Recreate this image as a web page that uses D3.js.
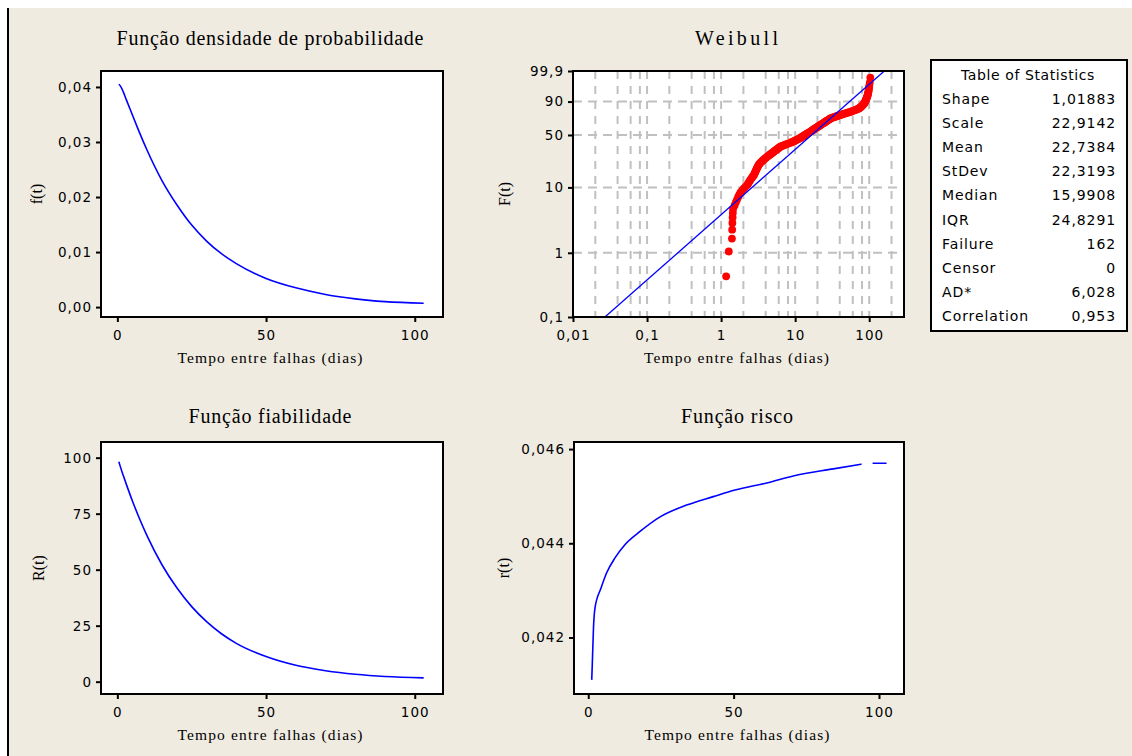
<!DOCTYPE html>
<html>
<head>
<meta charset="utf-8">
<script src="https://cdn.jsdelivr.net/npm/d3@7"></script>
<style>
body { margin: 0; background: #fff; }
.tick line { stroke: #000; stroke-width: 2; }
.tick text { font-family: "DejaVu Sans", sans-serif; font-size: 13.5px; letter-spacing: 1px; fill: #000; }
.serif { font-family: "Liberation Serif", "Times New Roman", serif; fill: #000; }
.stat { font-family: "DejaVu Sans", sans-serif; font-size: 14px; letter-spacing: 0.9px; fill: #000; }
</style>
</head>
<body>
<script>
// curve samples (time in days)
var tempo = [0.5, 1, 2, 3, 5, 7, 10, 15, 20, 25, 30, 35, 40, 50, 60, 70, 80, 90, 103];
var densidade = [0.0405, 0.0402, 0.0391, 0.0377, 0.0350, 0.0323, 0.0285, 0.0230, 0.0186, 0.0149,
                 0.0120, 0.0097, 0.0079, 0.0052, 0.0035, 0.0023, 0.0015, 0.0010, 0.0007];
var fiabilidade = [98.2, 96.0, 92.0, 88.2, 80.9, 74.2, 65.1, 52.2, 41.9, 33.5,
                   26.8, 21.4, 17.1, 11.2, 7.3, 4.9, 3.3, 2.3, 1.7];

// hazard curve (null = gap in the drawn line)
var riscoTempo = [1.2, 1.4, 1.8, 2.3, 4.4, 6.3, 9.2, 12.6, 17.8, 24.7, 33.8, 43.0, 50.5, 61.4, 70.5, 84.3, 94.0, 96.0, 97.8, 102.6];
var riscoValor = [0.04110, 0.04145, 0.04220, 0.04262, 0.04305, 0.04337, 0.04369, 0.04397, 0.04425, 0.04456,
                  0.04481, 0.04499, 0.04513, 0.04528, 0.04543, 0.04558, 0.04568, null, 0.04570, 0.04570];

// failure times (sorted), plotted at median ranks
var falhas = [1.17, 1.27, 1.40, 1.41, 1.42, 1.43, 1.44, 1.45, 1.52, 1.58, 1.64, 1.70, 1.76, 1.83,
  1.93, 2.03, 2.14, 2.26, 2.33, 2.40, 2.47, 2.54, 2.62, 2.70, 2.78,
  2.82, 2.87, 2.91, 2.96, 3.00, 3.05, 3.09, 3.14, 3.19, 3.24,
  3.33, 3.41, 3.50, 3.60, 3.69, 3.79, 3.90, 4.02, 4.13, 4.25, 4.38, 4.51, 4.64, 4.78, 4.92,
  5.05, 5.18, 5.32, 5.46, 5.60, 5.75, 5.90, 6.05, 6.21, 6.38,
  6.68, 6.99, 7.31, 7.66, 8.01, 8.39, 8.78, 9.19, 9.49, 9.80, 10.12, 10.46, 10.80, 11.15, 11.52, 11.90,
  12.19, 12.49, 12.80, 13.11, 13.43, 13.76, 14.10, 14.44, 14.80, 15.16, 15.53, 15.91, 16.30,
  16.66, 17.03, 17.41, 17.80, 18.20, 18.60, 19.02, 19.44, 19.87, 20.32, 20.77, 21.23, 21.71, 22.20,
  22.70, 23.22, 23.75, 24.28, 24.84, 25.40, 25.98, 26.57, 27.17, 27.79, 28.42, 29.06, 29.72, 30.40,
  31.78, 33.23, 34.74, 36.32, 37.97, 39.70, 41.50, 43.70, 46.02, 48.47, 51.04, 53.75, 56.60,
  59.11, 61.73, 64.46, 67.32, 70.30, 73.40, 74.85, 76.33, 77.85, 79.39, 80.96, 82.56, 84.20, 85.90,
  86.82, 87.75, 88.69, 89.64, 90.60, 91.57, 92.55, 93.54, 94.54, 95.50,
  96.3, 97.1, 97.9, 98.7, 99.5, 100.3, 101.8, 103.5];

// fitted Weibull line end points (time, percent)
var ajusteTempo = [0.027, 160];
var ajusteProb = [0.1, 99.9];

// tick values
var tempoTicks = [0, 50, 100];
var densTicks = [0, 0.01, 0.02, 0.03, 0.04];
var fiabTicks = [0, 25, 50, 75, 100];
var riscoTicks = [0.042, 0.044, 0.046];
var weibXTicks = [0.01, 0.1, 1, 10, 100];
var weibYTicks = [0.1, 1, 10, 50, 90, 99.9];
var weibXGrid = [0.02, 0.04, 0.06, 0.08, 0.1, 0.2, 0.4, 0.6, 0.8, 1, 2, 4, 6, 8, 10, 20, 40, 60, 80, 100, 200];
var weibYGrid = [1, 10, 50, 90];

// table of statistics
var statNomes = ["Shape", "Scale", "Mean", "StDev", "Median", "IQR", "Failure", "Censor", "AD*", "Correlation"];
var statValores = ["1,01883", "22,9142", "22,7384", "22,3193", "15,9908", "24,8291", "162", "0", "6,028", "0,953"];

var width = 1132, height = 756;
var blue = "#0000ff", red = "#ff0000";

var svg = d3.select("body").append("svg")
    .attr("width", width)
    .attr("height", height);

// window background and left edge
svg.append("rect").attr("x", 8).attr("y", 8).attr("width", width - 8).attr("height", height - 8).attr("fill", "#efebe1");
svg.append("line").attr("x1", 8).attr("x2", 8).attr("y1", 8).attr("y2", height).attr("stroke", "#000").attr("stroke-width", 2);

var comma = function(f) { return function(d) { return f(d).replace(".", ","); }; };

// draws white plot area; returns group
function panel(x0, y0, x1, y1) {
    var g = svg.append("g");
    g.append("rect").attr("x", x0).attr("y", y0).attr("width", x1 - x0).attr("height", y1 - y0).attr("fill", "#fff");
    return g;
}

function frame(x0, y0, x1, y1) {
    svg.append("rect").attr("x", x0).attr("y", y0).attr("width", x1 - x0).attr("height", y1 - y0)
        .attr("fill", "none").attr("stroke", "#000").attr("stroke-width", 2);
}

function axes(x, y, x0, y1, xAxis, yAxis) {
    svg.append("g").attr("transform", "translate(0," + y1 + ")")
        .call(xAxis.tickSize(5).tickPadding(8).tickSizeOuter(0))
        .call(function(g) { g.select(".domain").remove(); });
    svg.append("g").attr("transform", "translate(" + x0 + ",0)")
        .call(yAxis.tickSize(5).tickPadding(4).tickSizeOuter(0))
        .call(function(g) { g.select(".domain").remove(); });
}

function labels(title, tw, ylab, x0, x1, y0, y1, ty, yl) {
    var cx = (x0 + x1) / 2 - 2;
    svg.append("text").attr("class", "serif").attr("x", cx).attr("y", ty)
        .attr("text-anchor", "middle").attr("font-size", "20px")
        .attr("textLength", tw).attr("lengthAdjust", "spacing").text(title);
    svg.append("text").attr("class", "serif").attr("x", cx).attr("y", y1 + 46)
        .attr("text-anchor", "middle").attr("font-size", "15.5px")
        .attr("textLength", 185).attr("lengthAdjust", "spacing").text("Tempo entre falhas (dias)");
    svg.append("text").attr("class", "serif")
        .attr("transform", "translate(" + yl + "," + ((y0 + y1) / 2) + ") rotate(-90)")
        .attr("text-anchor", "middle").attr("font-size", "16px").text(ylab);
}

var line = function(x, y) {
    return d3.line().defined(function(d) { return d[1] !== null; })
        .x(function(d) { return x(d[0]); })
        .y(function(d) { return y(d[1]); })
        .curve(d3.curveMonotoneX);
};

// ---------- Função densidade de probabilidade ----------
var xL = d3.scaleLinear().domain([-5.5, 109.5]).range([101, 443]);
var yPdf = d3.scaleLinear().domain([-0.0018, 0.0429]).range([317, 71]);
var g1 = panel(101, 71, 443, 317);
g1.append("path")
    .attr("d", line(xL, yPdf)(tempo.map(function(t, i) { return [t, densidade[i]]; })))
    .attr("fill", "none").attr("stroke", blue).attr("stroke-width", 1.6);
frame(101, 71, 443, 317);
axes(xL, yPdf, 101, 317,
    d3.axisBottom(xL).tickValues(tempoTicks),
    d3.axisLeft(yPdf).tickValues(densTicks).tickFormat(comma(d3.format(".2f"))));
labels("Função densidade de probabilidade", 307, "f(t)", 101, 443, 71, 317, 45, 42);

// ---------- Weibull probability plot ----------
var xW = d3.scaleLog().domain([0.01, 295]).range([573, 904]);
var wb = function(p) { return Math.log(-Math.log(1 - p / 100)); };
var yW = d3.scaleLinear().domain([wb(0.1), wb(99.9)]).range([317, 71]);
var g2 = panel(573, 71, 904, 317);
svg.append("clipPath").attr("id", "clipW").append("rect")
    .attr("x", 573).attr("y", 71).attr("width", 331).attr("height", 246);
var gw = g2.append("g").attr("clip-path", "url(#clipW)");

gw.selectAll(".vgrid").data(weibXGrid).enter().append("line")
    .attr("x1", function(d) { return xW(d); }).attr("x2", function(d) { return xW(d); })
    .attr("y1", 71).attr("y2", 317)
    .attr("stroke", "#c0c0c0").attr("stroke-width", 2).attr("stroke-dasharray", "8,7");
gw.selectAll(".hgrid").data(weibYGrid).enter().append("line")
    .attr("x1", 573).attr("x2", 904)
    .attr("y1", function(d) { return yW(wb(d)); }).attr("y2", function(d) { return yW(wb(d)); })
    .attr("stroke", "#c0c0c0").attr("stroke-width", 2).attr("stroke-dasharray", "9,6");

var n = falhas.length;
gw.selectAll(".pt").data(falhas).enter().append("circle")
    .attr("cx", function(d) { return xW(d); })
    .attr("cy", function(d, i) { return yW(wb(100 * (i + 1 - 0.3) / (n + 0.4))); })
    .attr("r", 3.9).attr("fill", red);

gw.append("path")
    .attr("d", d3.line()
        .x(function(d) { return xW(d[0]); })
        .y(function(d) { return yW(wb(d[1])); })(ajusteTempo.map(function(t, i) { return [t, ajusteProb[i]]; })))
    .attr("fill", "none").attr("stroke", blue).attr("stroke-width", 1.3);
frame(573, 71, 904, 317);
axes(xW, yW, 573, 317,
    d3.axisBottom(xW).tickValues(weibXTicks).tickFormat(function(d) { return String(d).replace(".", ","); }),
    d3.axisLeft(yW).tickValues(weibYTicks.map(wb)).tickFormat(function(d, i) { return String(weibYTicks[i]).replace(".", ","); }));
labels("Weibull", 83, "F(t)", 573, 904, 71, 317, 45, 510);

// ---------- Função fiabilidade ----------
var yR = d3.scaleLinear().domain([-5.5, 107]).range([694, 442]);
var g3 = panel(101, 442, 443, 694);
g3.append("path")
    .attr("d", line(xL, yR)(tempo.map(function(t, i) { return [t, fiabilidade[i]]; })))
    .attr("fill", "none").attr("stroke", blue).attr("stroke-width", 1.6);
frame(101, 442, 443, 694);
axes(xL, yR, 101, 694,
    d3.axisBottom(xL).tickValues(tempoTicks),
    d3.axisLeft(yR).tickValues(fiabTicks));
labels("Função fiabilidade", 163, "R(t)", 101, 443, 442, 694, 423, 44);

// ---------- Função risco ----------
var xH = d3.scaleLinear().domain([-4.9, 108.6]).range([574, 904]);
var yH = d3.scaleLinear().domain([0.0408, 0.04615]).range([694, 442]);
var g4 = panel(574, 442, 904, 694);
g4.append("path")
    .attr("d", line(xH, yH)(riscoTempo.map(function(t, i) { return [t, riscoValor[i]]; })))
    .attr("fill", "none").attr("stroke", blue).attr("stroke-width", 1.6);
frame(574, 442, 904, 694);
axes(xH, yH, 574, 694,
    d3.axisBottom(xH).tickValues(tempoTicks),
    d3.axisLeft(yH).tickValues(riscoTicks).tickFormat(comma(d3.format(".3f"))));
labels("Função risco", 112, "r(t)", 574, 904, 442, 694, 423, 509);

// ---------- Table of Statistics ----------
svg.append("rect").attr("x", 931).attr("y", 60).attr("width", 196).attr("height", 271)
    .attr("fill", "#fff").attr("stroke", "#000").attr("stroke-width", 2);
svg.append("text").attr("class", "stat").attr("x", 1028).attr("y", 80)
    .attr("text-anchor", "middle").style("letter-spacing", "0.6px").text("Table of Statistics");
var rowY = d3.scalePoint().domain(statNomes).range([104, 321]);
svg.selectAll(".sname").data(statNomes).enter().append("text")
    .attr("class", "stat").attr("x", 942).attr("y", function(d) { return rowY(d); })
    .text(function(d) { return d; });
svg.selectAll(".sval").data(statValores).enter().append("text")
    .attr("class", "stat").attr("x", 1116).attr("text-anchor", "end")
    .attr("y", function(d, i) { return rowY(statNomes[i]); })
    .text(function(d) { return d; });
</script>
</body>
</html>
